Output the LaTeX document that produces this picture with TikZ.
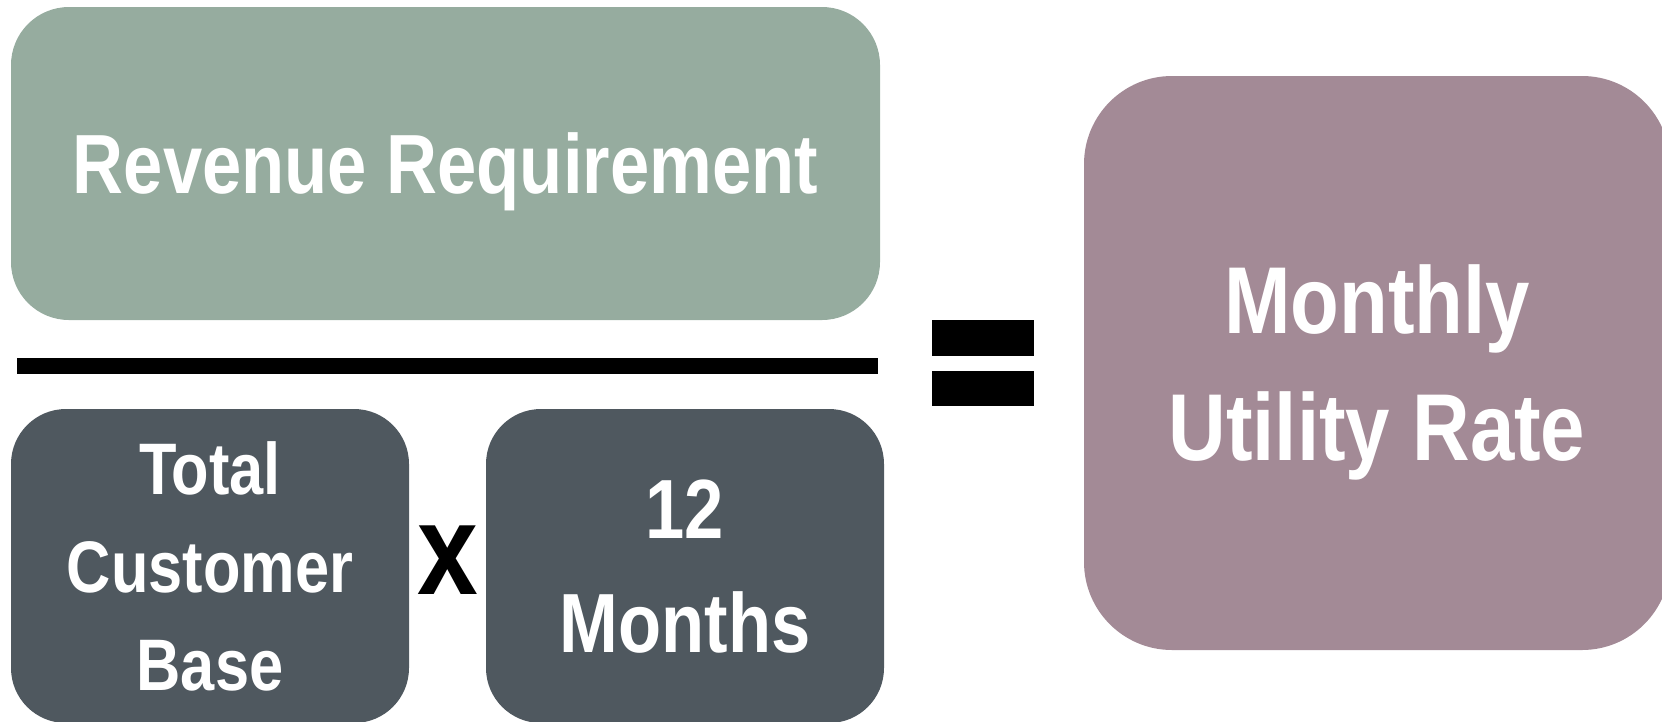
\documentclass[tikz,border=0pt]{standalone}
\usepackage{fontspec}
\newfontfamily\narrowbold{Liberation Sans Bold}[FakeStretch=0.84]
\usetikzlibrary{positioning}
\definecolor{sage}{HTML}{96AC9F}
\definecolor{slate}{HTML}{4F585F}
\definecolor{mauve}{HTML}{A38A96}
\tikzset{
  block/.style={rectangle, inner sep=0pt, text=white, align=center, text depth=0pt},
  lowbox/.style={block, fill=slate, minimum width=398pt, minimum height=314pt, rounded corners=55pt}
}

\begin{document}
\begin{tikzpicture}[x=1pt,y=-1pt]
  \clip (0,0) rectangle (1662,721);
  % numerator
  \node[block, fill=sage, minimum width=869pt, minimum height=313pt, rounded corners=58pt,
        font=\narrowbold\fontsize{84}{96}\selectfont] (rev) at (445.5,163.5) {Revenue Requirement};
  \fill (17,358) rectangle (878,374);
  % denominator
  \node[lowbox, font=\narrowbold\fontsize{73}{98}\selectfont] (base) at (210,566) {Total\\Customer\\Base};
  \node[lowbox, font=\narrowbold\fontsize{84}{114}\selectfont] (months) at (685,566) {12\\Months};
  \node[inner sep=0pt, text depth=0pt, font=\narrowbold\fontsize{130}{130}\selectfont] (times) at (447.5,560) {x};
  % equals
  \fill (932,320) rectangle (1034,356);
  \fill (932,371) rectangle (1034,406);
  % result
  \node[block, fill=mauve, minimum width=586pt, minimum height=574pt, rounded corners=88pt,
        font=\narrowbold\fontsize{95}{127}\selectfont] (rate) at (1377,363) {Monthly\\Utility Rate};
\end{tikzpicture}
\end{document}
